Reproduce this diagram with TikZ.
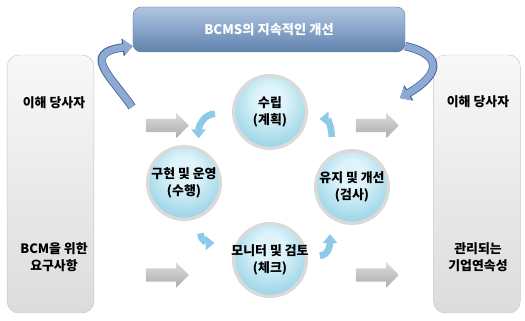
\documentclass[tikz,border=0pt]{standalone}
\usepackage{fontspec}
\setmainfont{Noto Sans CJK KR}
\usetikzlibrary{shapes.arrows,arrows.meta}

\definecolor{bannertop}{RGB}{176,198,226}
\definecolor{bannermid}{RGB}{122,153,195}
\definecolor{bannerbot}{RGB}{96,130,174}
\definecolor{bannerline}{RGB}{96,124,162}
\definecolor{bendfill}{RGB}{140,170,212}
\definecolor{bendline}{RGB}{70,100,146}
\definecolor{paneltop}{RGB}{248,248,248}
\definecolor{panelbot}{RGB}{220,220,220}
\definecolor{panelline}{RGB}{196,196,196}
\definecolor{bubblein}{RGB}{222,244,250}
\definecolor{bubbleout}{RGB}{112,192,218}
\definecolor{ringgray}{RGB}{218,218,218}
\definecolor{cycblue}{RGB}{140,202,232}
\definecolor{arrowtop}{RGB}{220,220,220}
\definecolor{arrowbot}{RGB}{172,172,172}

\pgfdeclareradialshading{bubble}{\pgfpoint{0bp}{10bp}}{color(0bp)=(bubblein); color(10bp)=(bubblein); color(42bp)=(bubbleout); color(60bp)=(bubbleout)}

\begin{document}
\begin{tikzpicture}[x=0.03cm,y=0.03cm,
    lbl/.style={font=\fontsize{11}{14}\selectfont\bfseries,align=center},
    panel/.style={draw=panelline,rounded corners=0.35cm,top color=paneltop,bottom color=panelbot,
      minimum width=2.6cm,minimum height=7.74cm},
    banner/.style={draw=bannerline,rounded corners=0.25cm,top color=bannertop,middle color=bannermid,
      bottom color=bannerbot,minimum width=8.16cm,minimum height=1.35cm,text=white,
      font=\fontsize{11.3}{13}\selectfont\bfseries},
    phase/.style={circle,shading=bubble,draw=ringgray,line width=0.1cm,minimum size=2.18cm,inner sep=0pt},
    grayarrow/.style={single arrow,shading=axis,top color=arrowtop,bottom color=arrowbot,
      minimum height=1.29cm,text height=0.195cm,text depth=0.195cm,single arrow head extend=0.18cm,
      inner sep=0pt},
    bendarrow/.style={line width=0.2cm,draw=bendfill,-{Triangle[width=0.45cm,length=0.27cm]},
      preaction={draw=bendline,line width=0.25cm,-{Triangle[width=0.52cm,length=0.31cm]}}},
    cycarrow/.style={line width=0.2cm,draw=cycblue,-{Triangle[width=0.42cm,length=0.27cm]}}]
  \useasboundingbox (0,0) rectangle (525,321);

  % side panels
  \node[panel] (left) at (50.5,137) {};
  \node[panel] (right) at (477,137) {};
  \node[lbl] (leftTop) at (54,218) {이해 당사자};
  \node[lbl] (leftBot) at (54,64) {BCM을 위한\\요구사항};
  \node[lbl] (rightTop) at (478,219) {이해 당사자};
  \node[lbl] (rightBot) at (478,64) {관리되는\\기업연속성};

  % banner
  \node[banner] (banner) at (269,291.5) {BCMS의 지속적인 개선};

  \coordinate (ltail) at (132,214);
  \coordinate (rtip) at (400,223);
  \draw[bendarrow] (ltail) .. controls (112,244) and (80,268) .. ([yshift=-0.5cm]banner.west);
  \draw[bendarrow] ([yshift=-0.5cm]banner.east) .. controls (444,266) and (440,246) .. (rtip);

  % in / out arrows
  \node[grayarrow] (inTop) at (164,195.5) {};
  \node[grayarrow] (inBot) at (164,46) {};
  \node[grayarrow] (outTop) at (374,195.5) {};
  \node[grayarrow] (outBot) at (374,46) {};

  % PDCA circles
  \node[phase,label={[lbl]center:수립\\(계획)}] (plan) at (270,209) {};
  \node[phase,label={[lbl]center:구현 및 운영\\(수행)}] (do) at (184,138) {};
  \node[phase,label={[lbl]center:모니터 및 검토\\(체크)}] (check) at (270,61) {};
  \node[phase,label={[lbl]center:유지 및 개선\\(검사)}] (act) at (352,134) {};

  \draw[cycarrow] ([shift={(182:55)}]plan.center) to[out=180,in=90] ([shift={(72:47)}]do.center);
  \draw[cycarrow] ([shift={(-72:53)}]do.center) to[out=-90,in=180] ([shift={(163:58)}]check.center);
  \draw[cycarrow] ([shift={(5:50)}]check.center) to[out=0,in=-90] ([shift={(245:52)}]act.center);
  \draw[cycarrow] ([shift={(112:54)}]act.center) to[out=90,in=0] ([shift={(-8:50)}]plan.center);
\end{tikzpicture}
\end{document}
